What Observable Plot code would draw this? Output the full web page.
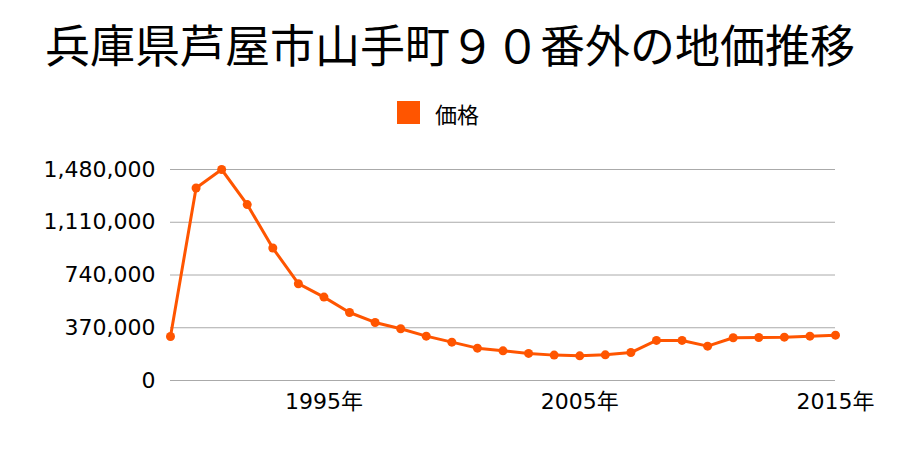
<!DOCTYPE html>
<html>
<head>
<meta charset="utf-8">
<script src="https://cdn.jsdelivr.net/npm/d3@7"></script>
<script src="https://cdn.jsdelivr.net/npm/@observablehq/plot@0.6"></script>
<style>
  html, body { margin: 0; padding: 0; background: #fff; }
  body { width: 900px; height: 450px; overflow: hidden; font-family: "Noto Sans CJK JP", sans-serif; }
  #wrap { position: relative; width: 900px; height: 450px; }
  #title { position: absolute; left: 0; width: 900px; top: 14px; text-align: center; font-size: 45px; line-height: 60px; color: #000; white-space: nowrap; }
  #legend { position: absolute; left: 397px; top: 101px; height: 23px; display: flex; align-items: center; font-size: 22px; color: #000; }
  #legend .sw { width: 23px; height: 23px; background: #ff5500; margin-right: 15px; }
  #chart { position: absolute; left: 0; top: 0; }
</style>
</head>
<body>
<div id="wrap">
  <div id="chart"></div>
  <div id="title">兵庫県芦屋市山手町９０番外の地価推移</div>
  <div id="legend"><div class="sw"></div><span>価格</span></div>
</div>
<script>
const seriesName = "価格";
const years = [1989,1990,1991,1992,1993,1994,1995,1996,1997,1998,1999,2000,2001,2002,2003,2004,2005,2006,2007,2008,2009,2010,2011,2012,2013,2014,2015];
const prices = [309000,1350000,1480000,1234000,929000,679000,585000,477000,407000,363000,311000,269000,227000,208000,190000,178000,173000,180000,196000,281000,281000,241000,300000,302000,304000,311000,318000];
const yTicks = [0,370000,740000,1110000,1480000];
const xTicks = [1995,2005,2015];

const data = years.map((y, i) => ({year: y, price: prices[i]}));
const color = "#ff5500";

const chart = Plot.plot({
  width: 900,
  height: 450,
  marginLeft: 170,
  marginRight: 65,
  marginTop: 169,
  marginBottom: 70,
  style: {fontFamily: "'DejaVu Sans', 'Noto Sans CJK JP', sans-serif", fontSize: "22px", color: "#000", background: "transparent", overflow: "visible"},
  x: {domain: [1989, 2015], label: null},
  y: {domain: [0, 1480000], label: null},
  marks: [
    Plot.gridY(yTicks, {stroke: "#aaaaaa", strokeOpacity: 1, strokeWidth: 1}),
    Plot.axisY(yTicks, {tickSize: 0, tickPadding: 15, tickFormat: d => d3.format(",")(d), fontSize: 22, label: null}),
    Plot.axisX(xTicks, {tickSize: 0, tickPadding: 13, tickFormat: d => d + "年", fontSize: 22, label: null}),
    Plot.line(data, {x: "year", y: "price", stroke: color, strokeWidth: 3}),
    Plot.dot(data, {x: "year", y: "price", fill: color, r: 4.5})
  ]
});
document.getElementById("chart").appendChild(chart);
</script>
</body>
</html>
